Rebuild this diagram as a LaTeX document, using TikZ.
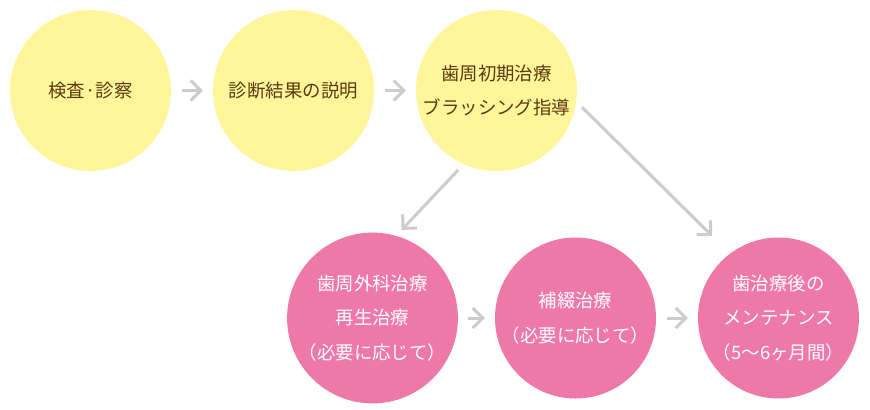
\documentclass[tikz,border=0pt]{standalone}
\usepackage{fontspec}
\setmainfont{Noto Sans CJK JP}
\usepackage{tikz}
\usepackage{xcolor}
\usetikzlibrary{arrows.meta, positioning}

\definecolor{stageyellow}{HTML}{FFF69C}
\definecolor{stagepink}{HTML}{EE78A7}
\definecolor{stagebrown}{HTML}{5C3A0E}
\definecolor{flowgray}{HTML}{CCCCCC}

\begin{document}
\begin{tikzpicture}[x=1bp,y=-1bp,
  stage/.style={circle,minimum size=161bp,inner sep=0pt,align=center,font=\fontsize{18.5}{35}\selectfont},
  yellowstage/.style={stage,fill=stageyellow,text=stagebrown},
  pinkstage/.style={stage,fill=stagepink,text=white},
  flow/.style={draw=flowgray,line width=3bp,-{Straight Barb[length=10bp,width=20bp]}}]
  \useasboundingbox (0,0) rectangle (870,409);
  % first row
  \node[yellowstage] (exam) at (90.5,90.5) {検査·診察};
  \node[yellowstage] (result) at (293.5,90.5) {診断結果の説明};
  \node[yellowstage] (initial) at (496.5,90.5) {歯周初期治療\\ブラッシング指導};
  % second row
  \node[pinkstage] (surgery) at (372.5,318) {歯周外科治療\\再生治療\\（必要に応じて）};
  \node[pinkstage] (prosth) at (575.5,318) {補綴治療\\（必要に応じて）};
  \node[pinkstage] (maint) at (778.5,318) {歯治療後の\\メンテナンス\\（5～6ヶ月間）};
  % arrows
  \draw[flow,shorten <=11bp,shorten >=10bp] (exam) -- (result);
  \draw[flow,shorten <=11bp,shorten >=10bp] (result) -- (initial);
  \draw[flow,shorten <=8bp,shorten >=8bp] (initial.246) -- (surgery.74);
  \draw[flow,shorten <=8bp,shorten >=25bp] (initial.352) -- (maint.127);
  \draw[flow,shorten <=10bp,shorten >=10bp] (surgery) -- (prosth);
  \draw[flow,shorten <=11bp,shorten >=10bp] (prosth) -- (maint);
\end{tikzpicture}
\end{document}
